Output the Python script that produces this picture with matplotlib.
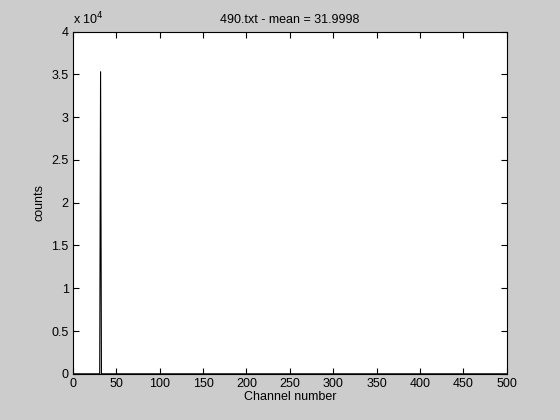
import numpy as np
import matplotlib
matplotlib.use("Agg")
import matplotlib.pyplot as plt
from matplotlib.ticker import FuncFormatter

plt.rcParams['font.family'] = ['Liberation Sans', 'DejaVu Sans']

n_channels = 500
spike_channel = 32
spike_count = 35300
title_text = "490.txt - mean = 31.9998"
xticks = [0, 50, 100, 150, 200, 250, 300, 350, 400, 450, 500]
yticks = [0, 5000, 10000, 15000, 20000, 25000, 30000, 35000, 40000]

channels = np.arange(1, n_channels + 1)
counts = np.zeros(n_channels)
counts[channels == spike_channel] = spike_count

fig = plt.figure(figsize=(5.6, 4.2), dpi=100, facecolor='#cccccc')
ax = fig.add_axes([0.13, 0.11, 0.775, 0.815])
ax.set_facecolor('white')
ax.plot(channels, counts, color='black', linewidth=0.8)
ax.set_xlim(0, 500)
ax.set_ylim(0, 40000)
ax.set_xticks(xticks)
ax.set_yticks(yticks)
ax.yaxis.set_major_formatter(FuncFormatter(lambda v, p: f"{v/1e4:g}"))
ax.tick_params(direction='in', top=True, right=True, length=4, labelsize=9, width=0.8, pad=3)
for s in ax.spines.values():
    s.set_linewidth(0.8)
ax.set_title(title_text, fontsize=9, pad=6)
ax.set_xlabel("Channel number", fontsize=9, labelpad=1)
ax.set_ylabel("counts", fontsize=9, labelpad=4)
ax.text(0.0, 1.012, r"x 10$^{4}$", transform=ax.transAxes, fontsize=9, ha='left', va='bottom')
fig.savefig("out.png", dpi=100, facecolor=fig.get_facecolor())
